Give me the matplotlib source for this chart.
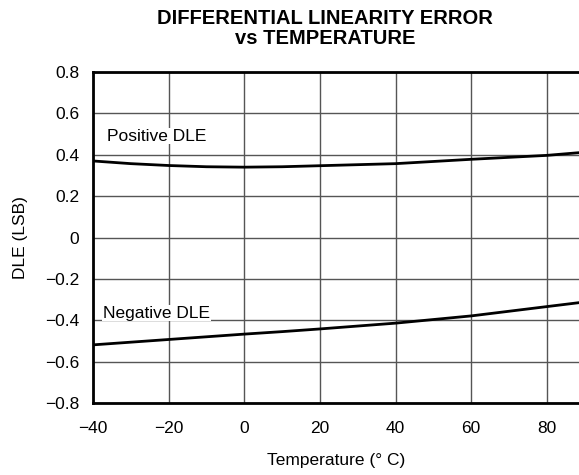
import numpy as np
import matplotlib.pyplot as plt

plt.rcParams['font.family'] = ['Liberation Sans', 'DejaVu Sans']

# temperature points (deg C)
temp = [-40, -30, -20, -10, 0, 10, 20, 40, 60, 80, 88.5]
pos_dle = [0.37, 0.357, 0.348, 0.342, 0.34, 0.342, 0.347, 0.357, 0.378, 0.397, 0.41]
neg_dle = [-0.519, -0.506, -0.493, -0.48, -0.467, -0.455, -0.442, -0.414, -0.379, -0.334, -0.315]

xticks = [-40, -20, 0, 20, 40, 60, 80]
yticks = [-0.8, -0.6, -0.4, -0.2, 0, 0.2, 0.4, 0.6, 0.8]

fig = plt.figure(figsize=(5.79, 4.75), dpi=100)
ax = fig.add_axes([93 / 579, 72 / 475, 486 / 579, 331 / 475])

ax.plot(temp, pos_dle, color='black', lw=2, zorder=3)
ax.plot(temp, neg_dle, color='black', lw=2, zorder=3)

ax.set_xlim(-40, 88.5)
ax.set_ylim(-0.8, 0.8)
ax.set_xticks(xticks)
ax.set_yticks(yticks)
ax.set_xticklabels(['\u2212' + str(-t) if t < 0 else str(t) for t in xticks])
ax.set_yticklabels(['0' if v == 0 else ('\u2212%.1f' % -v if v < 0 else '%.1f' % v) for v in yticks])
ax.tick_params(length=0, labelsize=12.5)
ax.tick_params(axis='x', pad=13)
ax.tick_params(axis='y', pad=10)
ax.grid(True, color='#555555', lw=1)

for side in ['left', 'top', 'bottom']:
    ax.spines[side].set_linewidth(2)
ax.spines['right'].set_visible(False)

ax.text(-36.3, 0.49, 'Positive DLE', fontsize=12.5, va='center',
        bbox=dict(facecolor='white', edgecolor='none', pad=0.5))
ax.text(-37.4, -0.366, 'Negative DLE', fontsize=12.5, va='center',
        bbox=dict(facecolor='white', edgecolor='none', pad=0.5))

ax.set_xlabel('Temperature (\u00b0 C)', fontsize=12.5, labelpad=12)
ax.set_ylabel('DLE (LSB)', fontsize=12.5, labelpad=12)
ax.set_title('DIFFERENTIAL LINEARITY ERROR\nvs TEMPERATURE', fontsize=14.5,
             fontweight='bold', pad=20, linespacing=1.05, x=0.478)

fig.savefig('out.png', dpi=100)
